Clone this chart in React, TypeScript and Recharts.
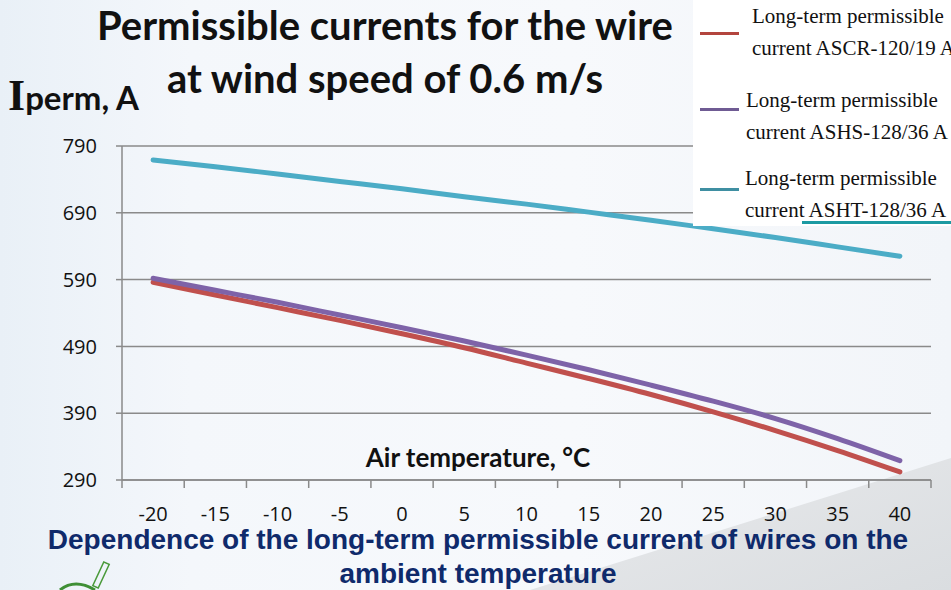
import { LineChart, Line, XAxis, YAxis, CartesianGrid, Legend } from 'recharts';

// air temperature, °C
const temperatures = [-20, -15, -10, -5, 0, 5, 10, 15, 20, 25, 30, 35, 40];

// long-term permissible current, A
const ascr120 = [586, 567, 548, 529, 509, 488, 465, 442, 418, 392, 364, 334, 302];
const ashs128 = [592, 574, 556, 537, 518, 498, 477, 455, 432, 408, 382, 352, 319];
const asht128 = [769, 759, 748, 737, 726, 714, 703, 691, 679, 666, 653, 639, 625];

const yTicks = [290, 390, 490, 590, 690, 790];

const step = 5;
const xBounds = [...temperatures.map(t => t - step / 2), temperatures[temperatures.length - 1] + step / 2];
const xTicks = [...xBounds, ...temperatures].sort((a, b) => a - b);

const series = [
  { key: 'asht', name: 'ASHT-128/36 A', color: '#4bacc6', legendColor: '#3f8fa2' },
  { key: 'ascr', name: 'ASCR-120/19 A', color: '#c0504d', legendColor: '#b3453e' },
  { key: 'ashs', name: 'ASHS-128/36 A', color: '#7e63a8', legendColor: '#6f5b93' },
];
const legendOrder = ['ascr', 'ashs', 'asht'];

const data = temperatures.map((t, i) => ({
  t,
  ascr: ascr120[i],
  ashs: ashs128[i],
  asht: asht128[i],
}));

const axisGray = '#8a8a8a';

const XTick = (props: any) => {
  const { x, y, payload } = props;
  const v = payload.value;
  if (temperatures.includes(v)) {
    return (
      <text x={x} y={y + 31} textAnchor="middle" fontSize={20} fill="#111" fontFamily="'Open Sans', sans-serif">
        {v}
      </text>
    );
  }
  return <line x1={x} x2={x} y1={y - 10} y2={y - 2} stroke={axisGray} strokeWidth={1.5} />;
};

const LegendBox = () => {
  const rows = [
    { top: 0, lineY: 33, textX: 59 },
    { top: 84, lineY: 109, textX: 53 },
    { top: 162, lineY: 189, textX: 52 },
  ];
  return (
    <div style={{ position: 'relative', width: 258, height: 226, background: '#fff', overflow: 'hidden' }}>
      {legendOrder.map((k, i) => {
        const s = series.find(x => x.key === k)!;
        const r = rows[i];
        return (
          <div key={k}>
            <div
              style={{
                position: 'absolute',
                left: 7,
                top: r.lineY - 1.5,
                width: 39,
                height: 3,
                background: s.legendColor,
              }}
            />
            <div
              style={{
                position: 'absolute',
                left: r.textX,
                top: r.top,
                fontFamily: "'Liberation Serif', 'Times New Roman', serif",
                fontSize: 21,
                lineHeight: '32px',
                color: '#111',
                whiteSpace: 'nowrap',
              }}
            >
              <div>Long-term permissible</div>
              <div>current {s.name}</div>
            </div>
          </div>
        );
      })}
      <div style={{ position: 'absolute', left: 109, top: 221, width: 149, height: 3, background: '#1c9aa2' }} />
    </div>
  );
};

const captionLine = {
  position: 'absolute' as const,
  left: 0,
  width: 956,
  textAlign: 'center' as const,
  fontFamily: "'Liberation Sans', Arial, sans-serif",
  fontWeight: 700,
  fontSize: 28,
  lineHeight: '26px',
  color: '#0f2a6b',
};

export default function App() {
  return (
    <div
      style={{
        position: 'absolute',
        left: 0,
        top: 0,
        width: 951,
        height: 590,
        overflow: 'hidden',
        background: 'linear-gradient(90deg, #e9f0f7 0%, #f4f7fb 20%, #f7f9fc 60%, #f2f5f9 100%)',
      }}
    >
      <div
        style={{
          position: 'absolute',
          left: 0,
          top: 0,
          width: 951,
          height: 590,
          clipPath: 'polygon(530px 590px, 951px 458px, 951px 590px)',
          background: 'linear-gradient(160deg, #eceef0 0%, #e2e5e8 40%, #f0f1f3 55%, #dadde0 100%)',
        }}
      />

      <div style={{ position: 'absolute', left: 0, top: 0 }}>
        <LineChart width={951} height={590} data={data} margin={{ top: 146, right: 20, left: 0, bottom: 50 }}>
          <CartesianGrid vertical={false} stroke={axisGray} strokeWidth={1.5} />
          <XAxis
            type="number"
            dataKey="t"
            domain={[-22.5, 42.5]}
            ticks={xTicks}
            interval={0}
            height={60}
            tickSize={8}
            tickLine={false}
            axisLine={{ stroke: axisGray, strokeWidth: 1.5 }}
            tick={<XTick />}
          />
          <YAxis
            width={122}
            domain={[290, 790]}
            ticks={yTicks}
            interval={0}
            tickSize={6}
            tickMargin={19}
            tickLine={{ stroke: axisGray, strokeWidth: 1.5 }}
            axisLine={{ stroke: axisGray, strokeWidth: 1.5 }}
            tick={{ fontSize: 20, fill: '#111', fontFamily: "'Open Sans', sans-serif" }}
          />
          {series.map(s => (
            <Line
              key={s.key}
              type="monotone"
              dataKey={s.key}
              name={s.name}
              stroke={s.color}
              strokeWidth={5}
              strokeLinecap="round"
              dot={false}
              activeDot={false}
              isAnimationActive={false}
            />
          ))}
          <Legend
            layout="horizontal"
            verticalAlign="middle"
            align="center"
            wrapperStyle={{ top: 0, left: 693, width: 258, height: 226 }}
            content={() => <LegendBox />}
          />
        </LineChart>
      </div>

      <div
        style={{
          position: 'absolute',
          left: 0,
          top: -1,
          width: 770,
          textAlign: 'center',
          fontFamily: "Lato, 'Open Sans', sans-serif",
          fontWeight: 700,
          fontSize: 40,
          lineHeight: '53px',
          color: '#111',
        }}
      >
        <div>Permissible currents for the wire</div>
        <div>at wind speed of 0.6 m/s</div>
      </div>

      <div style={{ position: 'absolute', left: 8, top: 70, whiteSpace: 'nowrap', color: '#111' }}>
        <span style={{ fontFamily: "'Liberation Serif', serif", fontWeight: 700, fontSize: 44 }}>I</span>
        <span style={{ fontFamily: 'Lato, sans-serif', fontWeight: 700, fontSize: 33 }}>perm, A</span>
      </div>

      <div
        style={{
          position: 'absolute',
          left: 0,
          top: 441,
          width: 956,
          textAlign: 'center',
          fontFamily: 'Lato, sans-serif',
          fontWeight: 700,
          fontSize: 26,
          color: '#111',
        }}
      >
        Air temperature, °C
      </div>

      <div style={{ ...captionLine, top: 527 }}>Dependence of the long-term permissible current of wires on the</div>
      <div style={{ ...captionLine, top: 561 }}>ambient temperature</div>

      <svg style={{ position: 'absolute', left: 50, top: 560 }} width={80} height={30}>
        <rect x={48} y={2} width={6} height={26} fill="none" stroke="#4a9a3a" strokeWidth={1.5} transform="rotate(25 51 15)" />
        <path d="M 10 30 Q 25 18 45 30" fill="none" stroke="#3f8f35" strokeWidth={3} />
      </svg>
    </div>
  );
}
